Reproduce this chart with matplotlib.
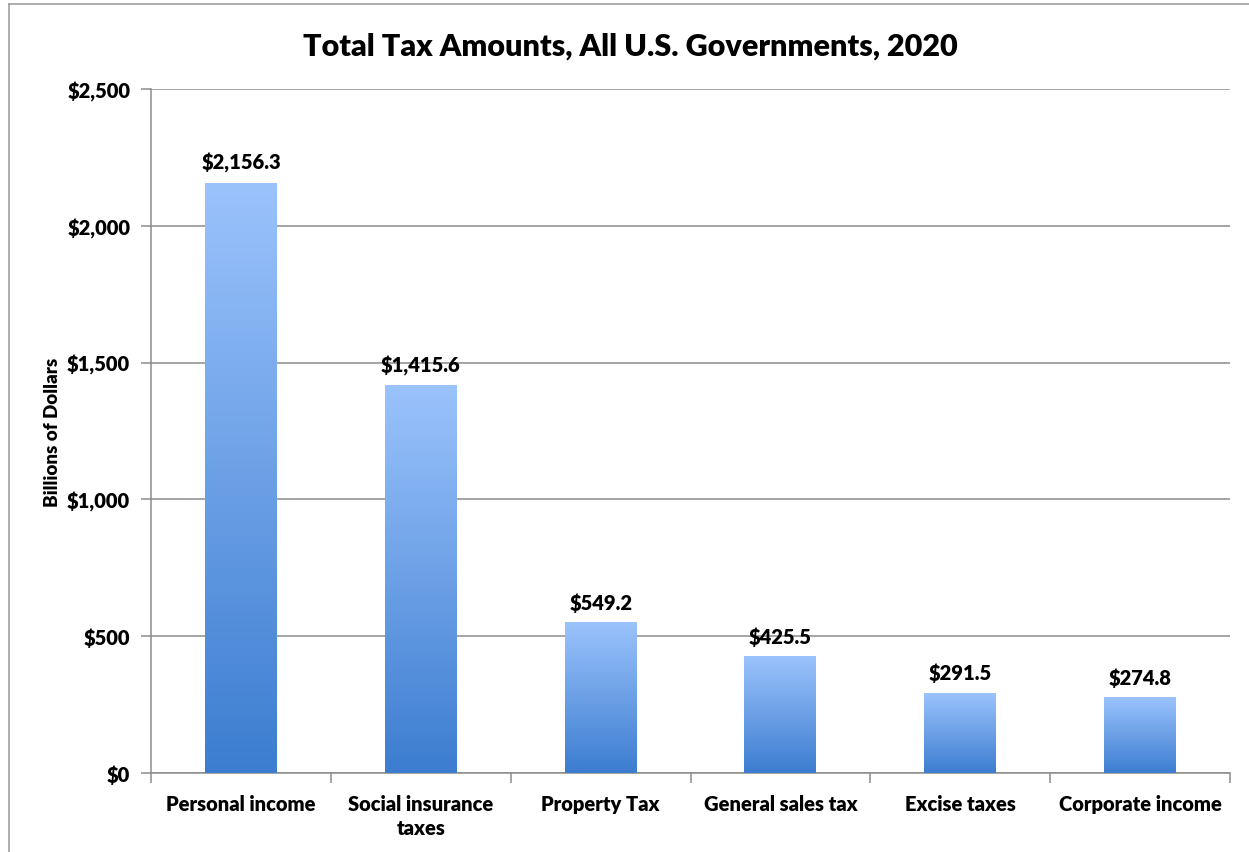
import numpy as np
import matplotlib.pyplot as plt
from matplotlib.colors import LinearSegmentedColormap
from matplotlib.lines import Line2D
from matplotlib.ticker import FuncFormatter, FixedLocator

categories = ['Personal income', 'Social insurance\ntaxes', 'Property Tax',
              'General sales tax', 'Excise taxes', 'Corporate income']
values = [2156.3, 1415.6, 549.2, 425.5, 291.5, 274.8]
value_labels = ['$2,156.3', '$1,415.6', '$549.2', '$425.5', '$291.5', '$274.8']
yticks = [0, 500, 1000, 1500, 2000, 2500]

plt.rcParams['font.family'] = ['Lato', 'DejaVu Sans']
W = 'heavy'

fig = plt.figure(figsize=(12.49, 8.53), dpi=100)
ax = fig.add_axes([0.1209, 0.0926, 0.8639, 0.8019])

# gradient fill, light at the top of each bar to dark at the bottom
cmap = LinearSegmentedColormap.from_list('bar', ['#3c7dd0', '#9bc3fc'])
grad = np.linspace(0, 1, 256).reshape(-1, 1)
bw = 0.4
x = np.arange(len(categories))
for xi, v in zip(x, values):
    ax.imshow(grad, cmap=cmap, origin='lower', aspect='auto',
              extent=[xi - bw / 2, xi + bw / 2, 0, v], zorder=3)
    ax.text(xi, v + 40, value_labels[xi], ha='center', va='bottom',
            fontsize=14.5, fontweight=W, color='black')

ax.set_xlim(-0.5, len(categories) - 0.5)
ax.set_ylim(0, 2500)

ax.yaxis.set_major_locator(FixedLocator(yticks))
ax.yaxis.set_major_formatter(FuncFormatter(lambda v, p: f'${v:,.0f}'))
ax.grid(axis='y', color='#8c8c8c', linewidth=1.1, zorder=0)
ax.set_axisbelow(True)

ax.set_xticks(np.arange(len(categories) + 1) - 0.5)
ax.set_xticklabels([])
ax.set_xticks(x, minor=True)
ax.set_xticklabels(categories, minor=True, fontsize=14.5, fontweight=W,
                   linespacing=1.35)
ax.tick_params(axis='x', which='minor', length=0, pad=15)
ax.tick_params(axis='x', which='major', length=7, color='#8c8c8c', width=1.1)
ax.tick_params(axis='y', length=7, color='#8c8c8c', width=1.1, pad=8,
               labelsize=14.5)
for lab in ax.get_yticklabels():
    lab.set_fontweight(W)

for s in ['top', 'right']:
    ax.spines[s].set_visible(False)
for s in ['left', 'bottom']:
    ax.spines[s].set_color('#8c8c8c')
    ax.spines[s].set_linewidth(1.1)

ax.set_ylabel('Billions of Dollars', fontsize=13.5, fontweight=W, labelpad=4)
fig.text(0.505, 0.945, 'Total Tax Amounts, All U.S. Governments, 2020',
         ha='center', va='center', fontsize=22, fontweight=W)

# outer frame of the chart box
fig.add_artist(Line2D([0.0072, 0.0072], [0, 0.994], transform=fig.transFigure,
                      color='#a0a0a0', linewidth=1.2))
fig.add_artist(Line2D([0.0072, 1.0], [0.994, 0.994], transform=fig.transFigure,
                      color='#a0a0a0', linewidth=1.2))

fig.savefig('out.png', dpi=100)
